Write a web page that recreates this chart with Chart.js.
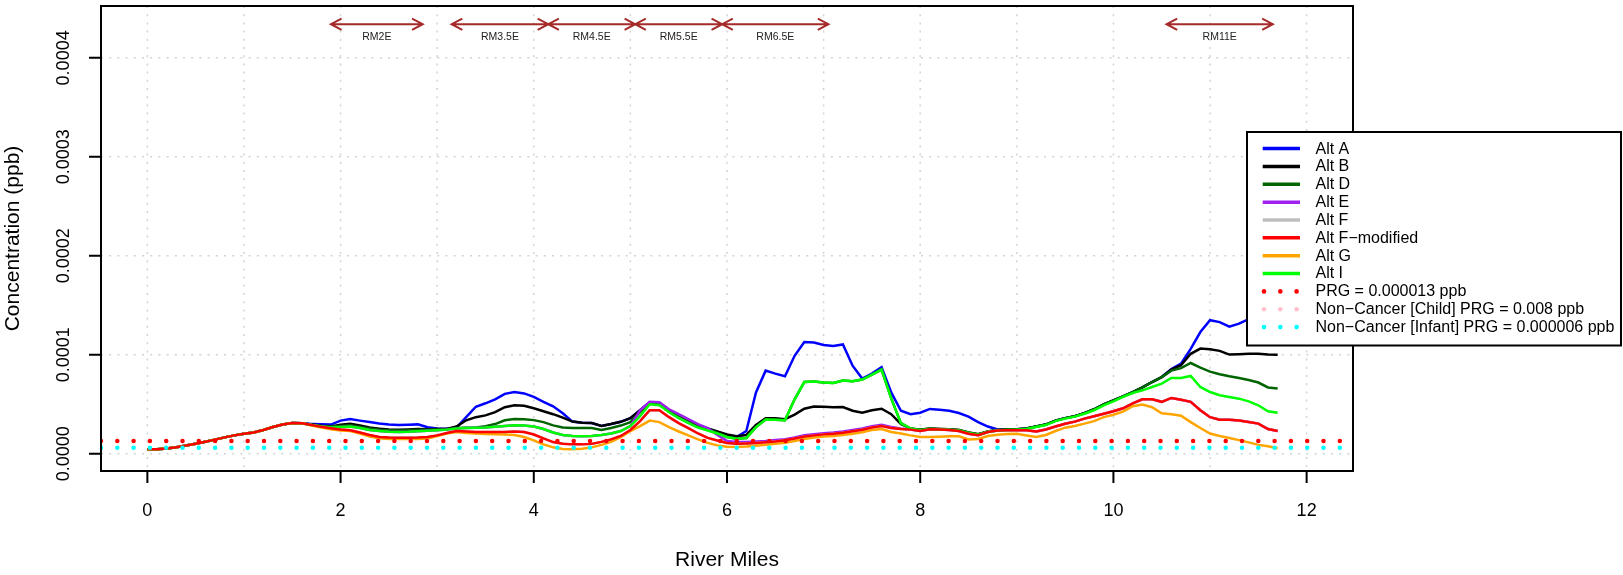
<!DOCTYPE html>
<html>
<head>
<meta charset="utf-8">
<script src="https://cdn.jsdelivr.net/npm/chart.js@4.4.1/dist/chart.umd.min.js"></script>
<style>
  html, body { margin: 0; padding: 0; background: #fff; }
  canvas { display: block; }
</style>
</head>
<body>
<canvas id="riverChart" width="1623" height="575"></canvas>
<script>
// concentrations are in micro-ppb (1e-6 ppb); axis labels are printed in ppb
const riverMiles = [
  0, 0.1, 0.2, 0.3, 0.4, 0.5, 0.6, 0.7, 0.8, 0.9,
  1, 1.1, 1.2, 1.3, 1.4, 1.5, 1.6, 1.7, 1.8, 1.9,
  2, 2.1, 2.2, 2.3, 2.4, 2.5, 2.6, 2.7, 2.8, 2.9,
  3, 3.1, 3.2, 3.3, 3.4, 3.5, 3.6, 3.7, 3.8, 3.9,
  4, 4.1, 4.2, 4.3, 4.4, 4.5, 4.6, 4.7, 4.8, 4.9,
  5, 5.1, 5.2, 5.3, 5.4, 5.5, 5.6, 5.7, 5.8, 5.9,
  6, 6.1, 6.2, 6.3, 6.4, 6.5, 6.6, 6.7, 6.8, 6.9,
  7, 7.1, 7.2, 7.3, 7.4, 7.5, 7.6, 7.7, 7.8, 7.9,
  8, 8.1, 8.2, 8.3, 8.4, 8.5, 8.6, 8.7, 8.8, 8.9,
  9, 9.1, 9.2, 9.3, 9.4, 9.5, 9.6, 9.7, 9.8, 9.9,
  10, 10.1, 10.2, 10.3, 10.4, 10.5, 10.6, 10.7, 10.8, 10.9,
  11, 11.1, 11.2, 11.3, 11.4, 11.5, 11.6, 11.7
];

const altA = [
  4.5, 4.7, 5.3, 6.6, 8.3, 10.2, 12.2, 14.3, 16.6, 18.6,
  20.2, 21.6, 24, 27, 29.5, 31, 30.8, 30.2, 29.8, 29.5,
  33.5, 35, 33.5, 32, 30.5, 29.5, 29, 29.3, 29.7, 26.8,
  25.5, 25.4, 26.5, 37, 47.5, 51, 55, 60.5, 62.4, 61,
  57.5, 52.5, 48, 41, 32.5, 31.3, 31, 28, 30, 32.3,
  36, 44, 52, 51.5, 44, 39, 34, 29, 25.5, 22,
  19, 17, 23, 62, 84, 81, 78.3, 99, 113, 112.5,
  110, 109, 110.5, 89, 76, 81, 87.5, 62, 43.5, 40,
  41.5, 45.3, 44.5, 43.5, 41.2, 37.5, 32, 27.5, 24.5, 24.5,
  24.8, 25.5, 27.5, 29.5, 33.5, 36, 38, 41, 45, 50,
  54, 58, 62.4, 67, 72.5, 77.5, 85.5, 91, 106, 123,
  135, 133, 128.5, 131.5, 136, 138, 140, 141
];
const altB = [
  4.5, 4.7, 5.3, 6.6, 8.3, 10.2, 12.2, 14.3, 16.6, 18.6,
  20.2, 21.6, 24, 27, 29.5, 31, 30.8, 29.5, 28.3, 27.7,
  29.4, 30.4, 28.5, 26.5, 25.4, 24.5, 24.4, 24.6, 25, 24.8,
  25, 25, 27.5, 33.8, 37, 38.8, 42, 47, 49, 48.5,
  46, 43, 40, 36.5, 32.5, 31.3, 31, 28, 30, 32.3,
  36, 44, 52, 51.5, 44, 39, 34, 29, 25.5, 22.5,
  19.5, 17.8, 19, 29, 36, 35.8, 35, 39.5, 45.5, 47.8,
  47.4, 47, 47.2, 43.5, 41.5, 44, 45.5, 40, 30, 25.5,
  24.2, 25.5, 25.1, 24.7, 24, 21.5, 19.8, 22.5, 24, 24.5,
  24.8, 25.5, 27.5, 29.5, 33.5, 36, 38, 41, 45, 50,
  54, 58, 62.4, 67, 72.5, 77.5, 85, 89.5, 101, 106.3,
  105.6, 104, 100.2, 100.6, 101, 101, 100.3, 100
];
const altD = [
  4.5, 4.7, 5.3, 6.6, 8.3, 10.2, 12.2, 14.3, 16.6, 18.6,
  20.2, 21.6, 24, 27, 29.5, 31, 30.8, 29.3, 28, 27.5,
  28, 28.7, 27, 25.5, 24.2, 23.7, 23.4, 23.8, 24.2, 24.4,
  24.6, 24.8, 26, 26.3, 26.5, 27.8, 30, 33.8, 35.1, 35,
  34, 32, 28.7, 26.5, 26, 26, 26, 24, 26, 28.5,
  32, 42, 51.5, 51, 44, 39, 34, 29, 25.5, 21,
  17, 15.3, 16, 27, 34.5, 34.3, 33.8, 55, 72.5, 73,
  72, 71.6, 74, 73.3, 75, 80, 85, 56, 31, 25.5,
  24.2, 25.5, 25.1, 24.7, 24, 21.5, 19.8, 22.5, 24, 24.5,
  24.8, 25.5, 27.5, 29.5, 33.5, 36, 38, 41, 45, 50,
  54, 58, 62.4, 67, 72.5, 77.5, 84, 86.5, 91.7, 87,
  83, 80.3, 78.3, 76.6, 74.5, 72, 67, 66
];
const altE = [
  4.5, 4.7, 5.3, 6.6, 8.3, 10.2, 12.2, 14.3, 16.6, 18.6,
  20.2, 21.6, 24, 27, 29.5, 31, 30.8, 29, 27.5, 26.5,
  27, 27.5, 26, 24, 23, 22.2, 22, 22.2, 22.7, 23.3,
  23.8, 24.4, 25.5, 26, 26.2, 26.6, 27.3, 28, 28.7, 28.5,
  27.5, 25, 21.5, 19, 18, 17.6, 18, 19, 20.5, 23,
  28, 44, 52.5, 52, 45, 40, 35, 30, 26, 19,
  13, 12, 12, 12.5, 13, 13.8, 14.8, 16.5, 18.7, 19.8,
  20.8, 21.5, 22.5, 24, 25.5, 27.8, 29.3, 27, 25.5, 24.4,
  23, 24.7, 24.5, 24, 23, 20.3, 18.8, 22, 23.5, 23.7,
  23.7, 23.7, 22.5, 24.5, 27.5, 30.4, 32.5, 35.5, 38, 40.5,
  43, 46, 51, 55, 55, 52.5, 56.4, 54.5, 52.5, 44,
  37, 34.5, 34.5, 33.7, 32.2, 30.5, 25, 23
];
const altFmod = [
  4.5, 4.7, 5.3, 6.6, 8.3, 10.2, 12.2, 14.3, 16.6, 18.6,
  20.2, 21.6, 24, 27, 29.5, 31, 30.8, 29, 27.2, 25.8,
  24.5, 23.7, 21.5, 19, 17, 16.4, 16.2, 16.3, 16.5, 17,
  18.6, 21, 23, 22.5, 22, 22, 22, 22, 22.5, 22,
  19.5, 15.5, 11.8, 10.2, 9.5, 9.5, 10, 12, 14.5, 18,
  24, 33, 44, 44, 37, 31, 26, 20.5, 16, 13.5,
  11, 10.2, 10.5, 11, 11.6, 12.4, 13.6, 15.5, 17.5, 18.6,
  19.6, 20.3, 21.3, 22.8, 24.2, 26.5, 28, 26, 25, 24.4,
  23, 24.7, 24.5, 24, 23, 20.3, 18.8, 22, 23.5, 23.7,
  23.7, 23.7, 22.5, 24.5, 27.5, 30.4, 32.5, 35.5, 38, 40.5,
  43, 46, 51, 55, 55, 52.5, 56.4, 54.5, 52.5, 44,
  37, 34.5, 34.5, 33.7, 32.2, 30.5, 25, 23
];
// Alt F is not visible anywhere: it lies under Alt F-modified
const altF = altFmod;
const altG = [
  4.5, 4.7, 5.3, 6.6, 8.3, 10.2, 12.2, 14.3, 16.6, 18.6,
  20.2, 21.6, 24, 27, 29.5, 31, 30.8, 28.5, 26.5, 24.8,
  23.5, 23, 20.5, 17.5, 15.8, 15, 14.9, 14.9, 15, 15.5,
  18, 20.5, 22, 21, 20.5, 20, 19.7, 19.4, 19, 17,
  13.5, 9.5, 6.5, 4.8, 4.5, 5, 6.5, 9, 12, 16.9,
  23, 28, 33.5, 32, 27, 22.5, 18.5, 14.5, 11, 8.5,
  7, 6.8, 7.3, 8.2, 9, 10, 11.2, 13, 15, 16.5,
  17.5, 18, 19, 20.3, 21.8, 24, 25, 22, 20.5, 18.6,
  17, 17, 17.3, 17.6, 17.6, 14.5, 15, 18, 19.3, 20,
  20.3, 18.5, 16.9, 19, 23, 26.4, 28, 30.5, 33, 37,
  39.5, 42.5, 48, 49.7, 47, 41, 40, 38.5, 32, 26,
  20.5, 18, 16, 13.8, 11.5, 9, 7.5, 5.5
];
const altI = [
  4.5, 4.7, 5.3, 6.6, 8.3, 10.2, 12.2, 14.3, 16.6, 18.6,
  20.2, 21.6, 24, 27, 29.5, 31, 30.8, 29, 27.5, 26.5,
  27, 27.5, 26, 24, 23, 22.2, 22, 22.2, 22.7, 23.3,
  23.8, 24.4, 25.5, 26, 26.2, 26.6, 27.3, 28, 28.7, 28.5,
  27.5, 25, 21.5, 19, 18, 17.6, 18, 19, 20.5, 23,
  28, 38, 50, 49, 42, 36, 31, 26.5, 23.5, 20.5,
  17, 15.3, 16, 27, 34.5, 34.3, 33.8, 55, 72.5, 73,
  72, 71.6, 74, 73.3, 75, 80, 85, 56, 31, 25.5,
  23.7, 25, 24.6, 24.2, 23.5, 21, 19.3, 22, 23.5, 24,
  24.4, 25, 27, 29, 33, 35.5, 37.5, 40.5, 44, 49,
  53, 57.4, 61.4, 64.1, 67.5, 70.9, 76.6, 76.6, 78.6, 67.5,
  62.4, 59.1, 57.4, 55.7, 53, 49, 43, 41.5
];

const seriesNames = ['Alt A', 'Alt B', 'Alt D', 'Alt E', 'Alt F', 'Alt F\u2212modified', 'Alt G', 'Alt I'];
const seriesValues = [altA, altB, altD, altE, altF, altFmod, altG, altI];
const seriesColors = ['#0000FF', '#000000', '#006400', '#A020F0', '#BEBEBE', '#FF0000', '#FFA500', '#00FF00'];
const seriesOrder = [8, 7, 6, 5, 4, 1, 3, 2]; // lower = drawn on top

// remediation goals (micro-ppb)
const prgNames = ['PRG = 0.000013 ppb', 'Non\u2212Cancer [Child] PRG = 0.008 ppb', 'Non\u2212Cancer [Infant] PRG = 0.000006 ppb'];
const prgLevels = [13, 8000, 6];
const prgColors = ['#FF0000', '#FFC0CB', '#00FFFF'];

// reach annotations along the top (river miles)
const reachNames = ['RM2E', 'RM3.5E', 'RM4.5E', 'RM5.5E', 'RM6.5E', 'RM11E'];
const reachStart = [1.9, 3.15, 4.15, 5.05, 5.95, 10.55];
const reachEnd = [2.85, 4.15, 5.05, 5.95, 7.05, 11.65];
const reachArrowY = 434;
const reachLabelY = 421;

const xLimits = [-0.48, 12.48];
const yLimits = [-17.4, 452.4];
const xTickValues = [0, 2, 4, 6, 8, 10, 12];
const xGridValues = [0, 1, 2, 3, 4, 5, 6, 7, 8, 9, 10, 11, 12];
const yTickValues = [0, 100, 200, 300, 400];
const yTickLabels = ['0.0000', '0.0001', '0.0002', '0.0003', '0.0004'];

const FONT = "'Liberation Sans', Arial, Helvetica, sans-serif";

const datasets = seriesNames.map((name, i) => ({
  label: name,
  data: riverMiles.map((m, j) => ({ x: m, y: seriesValues[i][j] })),
  borderColor: seriesColors[i],
  borderWidth: 2.5,
  pointRadius: 0,
  tension: 0,
  fill: false,
  order: seriesOrder[i],
  legendKind: 'line'
}));
prgNames.forEach((name, i) => {
  datasets.push({
    label: name,
    data: [{ x: xLimits[0], y: prgLevels[i] }, { x: xLimits[1], y: prgLevels[i] }],
    borderColor: prgColors[i],
    borderWidth: 4.5,
    borderDash: [0, 16.3],
    borderCapStyle: 'round',
    pointRadius: 0,
    fill: false,
    order: 0,
    legendKind: 'dots'
  });
});

const rPlot = {
  id: 'rPlot',
  beforeDatasetsDraw(chart) {
    const { ctx, chartArea: a, scales: { x, y } } = chart;
    ctx.save();
    ctx.strokeStyle = '#D3D3D3';
    ctx.lineWidth = 1.5;
    ctx.setLineDash([2, 6.2]);
    ctx.beginPath();
    xGridValues.forEach(v => {
      const px = x.getPixelForValue(v);
      ctx.moveTo(px, a.top); ctx.lineTo(px, a.bottom);
    });
    yTickValues.forEach(v => {
      const py = y.getPixelForValue(v);
      ctx.moveTo(a.left, py); ctx.lineTo(a.right, py);
    });
    ctx.stroke();
    ctx.restore();
  },
  afterDatasetsDraw(chart) {
    const { ctx, scales: { x, y } } = chart;
    const ay = y.getPixelForValue(reachArrowY);
    const ly = y.getPixelForValue(reachLabelY);
    const len = 12, ang = Math.PI / 6.5;
    ctx.save();
    ctx.strokeStyle = '#A52A2A';
    ctx.lineWidth = 2;
    reachNames.forEach((name, i) => {
      const x0 = x.getPixelForValue(reachStart[i]);
      const x1 = x.getPixelForValue(reachEnd[i]);
      ctx.beginPath();
      ctx.moveTo(x0, ay); ctx.lineTo(x1, ay);
      ctx.moveTo(x0 + len * Math.cos(ang), ay - len * Math.sin(ang));
      ctx.lineTo(x0, ay);
      ctx.lineTo(x0 + len * Math.cos(ang), ay + len * Math.sin(ang));
      ctx.moveTo(x1 - len * Math.cos(ang), ay - len * Math.sin(ang));
      ctx.lineTo(x1, ay);
      ctx.lineTo(x1 - len * Math.cos(ang), ay + len * Math.sin(ang));
      ctx.stroke();
      ctx.fillStyle = '#222';
      ctx.font = '10.5px ' + FONT;
      ctx.textAlign = 'center';
      ctx.textBaseline = 'middle';
      ctx.fillText(name, (x0 + x1) / 2, ly);
    });
    ctx.restore();
  },
  afterDraw(chart) {
    const { ctx, chartArea: a, scales: { x, y } } = chart;
    ctx.save();
    // box, ticks, tick labels
    ctx.strokeStyle = '#000';
    ctx.lineWidth = 2;
    ctx.strokeRect(a.left, a.top, a.right - a.left, a.bottom - a.top);
    ctx.beginPath();
    xTickValues.forEach(v => {
      const px = x.getPixelForValue(v);
      ctx.moveTo(px, a.bottom); ctx.lineTo(px, a.bottom + 12);
    });
    yTickValues.forEach(v => {
      const py = y.getPixelForValue(v);
      ctx.moveTo(a.left, py); ctx.lineTo(a.left - 12, py);
    });
    ctx.stroke();

    ctx.fillStyle = '#000';
    ctx.textAlign = 'center';
    ctx.textBaseline = 'middle';
    ctx.font = '18px ' + FONT;
    xTickValues.forEach(v => ctx.fillText(String(v), x.getPixelForValue(v), a.bottom + 40));
    yTickValues.forEach((v, i) => {
      ctx.save();
      ctx.translate(a.left - 37, y.getPixelForValue(v));
      ctx.rotate(-Math.PI / 2);
      ctx.fillText(yTickLabels[i], 0, 0);
      ctx.restore();
    });
    ctx.font = '21px ' + FONT;
    ctx.fillText('River Miles', (a.left + a.right) / 2, a.bottom + 89);
    ctx.save();
    ctx.translate(a.left - 88, (a.top + a.bottom) / 2);
    ctx.rotate(-Math.PI / 2);
    ctx.fillText('Concentration (ppb)', 0, 0);
    ctx.restore();

    // legend, outside the plot on the right
    const lg = { left: 1247, top: 132, right: 1621, bottom: 345.5, row0: 148.6, gap: 17.85, x0: 1262.7, x1: 1300, tx: 1315.5 };
    ctx.fillStyle = '#fff';
    ctx.fillRect(lg.left, lg.top, lg.right - lg.left, lg.bottom - lg.top);
    ctx.strokeStyle = '#000';
    ctx.lineWidth = 2;
    ctx.strokeRect(lg.left, lg.top, lg.right - lg.left, lg.bottom - lg.top);
    ctx.font = '16px ' + FONT;
    ctx.textAlign = 'left';
    chart.data.datasets.forEach((ds, i) => {
      const ry = lg.row0 + i * lg.gap;
      if (ds.legendKind === 'line') {
        ctx.strokeStyle = ds.borderColor;
        ctx.lineWidth = 3.5;
        ctx.beginPath();
        ctx.moveTo(lg.x0, ry); ctx.lineTo(lg.x1, ry);
        ctx.stroke();
      } else {
        ctx.fillStyle = ds.borderColor;
        [lg.x0 + 1.3, lg.x0 + 17.6, lg.x0 + 33.9].forEach(dx => {
          ctx.beginPath();
          ctx.arc(dx, ry, 2.3, 0, Math.PI * 2);
          ctx.fill();
        });
      }
      ctx.fillStyle = '#000';
      ctx.fillText(ds.label, lg.tx, ry + 0.5);
    });
    ctx.restore();
  }
};

new Chart(document.getElementById('riverChart'), {
  type: 'line',
  data: { datasets },
  options: {
    responsive: false,
    animation: false,
    devicePixelRatio: 1,
    layout: { padding: { left: 101, top: 6, right: 270, bottom: 104 } },
    plugins: { legend: { display: false }, tooltip: { enabled: false } },
    scales: {
      x: { type: 'linear', min: xLimits[0], max: xLimits[1], display: false },
      y: { type: 'linear', min: yLimits[0], max: yLimits[1], display: false }
    }
  },
  plugins: [rPlot]
});
</script>
</body>
</html>
